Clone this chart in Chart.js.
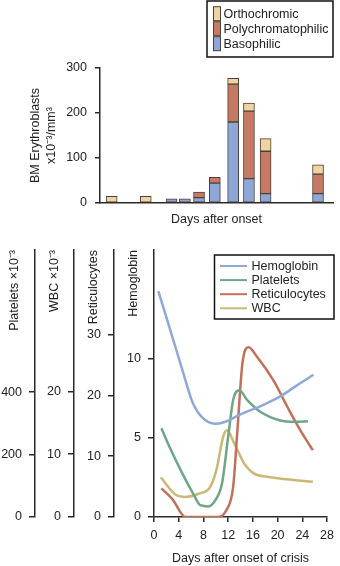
<!DOCTYPE html>
<html>
<head>
<meta charset="utf-8">
<script src="https://cdn.jsdelivr.net/npm/chart.js@4.4.1/dist/chart.umd.min.js"></script>
<style>
  html, body { margin: 0; padding: 0; background: #fff; }
  #wrap { position: relative; width: 340px; height: 566px; }
  .pane { position: absolute; left: 0; width: 340px; }
</style>
</head>
<body>
<div id="wrap">
  <div class="pane" style="top:0;height:228px"><canvas id="bmChart"></canvas></div>
  <div class="pane" style="top:228px;height:338px"><canvas id="crisisChart"></canvas></div>
</div>
<script>
/* ── Data: bone marrow erythroblasts (stacked bars) ─────────────── */
const BM_DAYS  = [1.4, 5.5, 8.6, 10.2, 11.9, 13.8, 16, 17.9, 19.9, 26.2];
const BASO     = [null, null, 9, 9, 12, 44, 180, 54, 21, 21];
const POLY     = [null, null, null, null, 12, 13, 84, 150, 94, 43];
const ORTHO    = [15, 15, null, null, null, null, 13, 18, 28, 21];
const BM_TICKS = [0, 100, 200, 300];

/* ── Data: blood counts after onset of crisis (lines) ──────────── */
const HB_DAYS  = [0.7, 2.5, 4.6, 6.2, 7.8, 9.9, 11.3, 14, 17.7, 20.3, 23, 25.8];
const HB       = [14.3, 12.0, 9.3, 7.3, 6.3, 5.9, 6.0, 6.5, 7.1, 7.6, 8.3, 9.0];
const PLT_DAYS = [1.2, 2.5, 4.6, 6.2, 7.5, 8.8, 9.9, 11, 12, 12.8, 13.8, 15.1, 17.2, 20.3, 23, 24.9];
const PLT      = [284, 225, 139, 80, 38, 34, 53, 107, 257, 374, 406, 374, 337, 310, 305, 307];
const RET_DAYS = [1.2, 3.0, 5.1, 7.2, 10.4, 11.7, 12.8, 13.5, 14.3, 15.3, 16.7, 19.3, 21.9, 24, 25.7];
const RET      = [4.7, 2.9, 0, 0, 0, 1.1, 4.9, 14.3, 25.2, 27.9, 26.3, 22.5, 17.5, 13.7, 11.0];
const WBC_DAYS = [1.1, 3.6, 5.1, 7.2, 9.1, 10.1, 11.2, 11.8, 13, 14.6, 16.2, 18.3, 21.4, 25.7];
const WBC      = [6.3, 3.5, 3.2, 3.7, 4.8, 7.5, 12.8, 13.8, 11.7, 8.5, 6.9, 6.4, 6.0, 5.6];
const DAY_TICKS = [0, 4, 8, 12, 16, 20, 24, 28];
const HB_TICKS  = [0, 5, 10];
const RET_TICKS = [0, 10, 20, 30];
const WBC_TICKS = [0, 10, 20];
const PLT_TICKS = [0, 200, 400];

/* ── Style ──────────────────────────────────────────────────────── */
const FONT = '"Liberation Sans", Arial, Helvetica, sans-serif';
const INK  = "#222";
const AXIS = "#2a2a2a";
Chart.defaults.font.family = FONT;
Chart.defaults.font.size = 12.5;
Chart.defaults.color = INK;

const pts = (xs, ys) => xs.map((x, i) => ({ x, y: ys[i] }));
const fixTicks = list => s => { s.ticks = list.map(v => ({ value: v })); };

/* legend drawn as a framed box, like the figure */
const boxLegend = {
  id: "boxLegend",
  afterDraw(chart, args, o) {
    if (!o || !o.w) return;
    const ctx = chart.ctx;
    const items = o.reverse ? chart.data.datasets.slice().reverse() : chart.data.datasets;
    ctx.save();
    ctx.lineWidth = 1.5;
    ctx.strokeStyle = "#111";
    ctx.strokeRect(o.x, o.y, o.w, o.h);
    ctx.font = "12.5px " + FONT;
    ctx.textBaseline = "middle";
    items.forEach((ds, i) => {
      const cy = o.y + o.first + i * o.rowH;
      if (o.kind === "box") {
        ctx.fillStyle = ds.backgroundColor;
        ctx.fillRect(o.x + o.sx, cy - 7, 7, 14);
        ctx.lineWidth = 1;
        ctx.strokeStyle = ds.borderColor;
        ctx.strokeRect(o.x + o.sx, cy - 7, 7, 14);
      } else {
        ctx.lineWidth = 2;
        ctx.strokeStyle = ds.borderColor;
        ctx.beginPath();
        ctx.moveTo(o.x + o.sx, cy);
        ctx.lineTo(o.x + o.sx + 27, cy);
        ctx.stroke();
      }
      ctx.fillStyle = INK;
      ctx.fillText(ds.label, o.x + o.tx, cy + 0.5);
    });
    ctx.restore();
  }
};

/* ── Top chart: BM erythroblasts ────────────────────────────────── */
const barDs = (label, xs, ys, color) => ({
  label, data: pts(xs, ys),
  backgroundColor: color, borderColor: "#4a4038", borderWidth: 1,
  borderSkipped: false, barThickness: 11
});

new Chart(document.getElementById("bmChart"), {
  type: "bar",
  data: {
    datasets: [
      barDs("Basophilic", BM_DAYS, BASO, "#8fa6d9"),
      barDs("Polychromatophilic", BM_DAYS, POLY, "#c67a64"),
      barDs("Orthochromic", BM_DAYS, ORTHO, "#f0d4a0")
    ]
  },
  options: {
    responsive: true,
    maintainAspectRatio: false,
    animation: false,
    layout: { padding: { top: 68, right: 7, left: 0, bottom: 0 } },
    plugins: {
      legend: { display: false },
      tooltip: { enabled: false },
      boxLegend: { kind: "box", reverse: true, x: 207, y: 1, w: 126, h: 56, first: 12.7, rowH: 15, sx: 6.5, tx: 16.5 }
    },
    scales: {
      x: {
        type: "linear", stacked: true, min: 0, max: 28, offset: false,
        ticks: { display: false },
        grid: { display: false, offset: false },
        border: { display: true, color: AXIS, width: 1.5 },
        title: { display: true, text: "Days after onset", padding: { top: 0, bottom: 1 } },
        afterFit: s => { s.height = 25; }
      },
      y: {
        stacked: true, min: 0, max: 300,
        afterBuildTicks: fixTicks(BM_TICKS),
        ticks: { padding: 8, color: INK },
        grid: { drawOnChartArea: false, tickLength: 5, color: AXIS, lineWidth: 1.5 },
        border: { display: true, color: AXIS, width: 1.5 },
        title: {
          display: true, text: ["BM Erythroblasts", "x10\u207B\u00B3/mm\u00B3"],
          font: { size: 12.5, lineHeight: 1.3 }, padding: { top: 27.5, bottom: 0 }
        },
        afterFit: s => { s.width = 100; }
      }
    }
  },
  plugins: [boxLegend]
});

/* ── Bottom chart: counts after onset of crisis ─────────────────── */
const lineDs = (label, xs, ys, color, axis) => ({
  label, data: pts(xs, ys), yAxisID: axis,
  borderColor: color, backgroundColor: color, borderWidth: 2.5,
  pointRadius: 0, fill: false, cubicInterpolationMode: "monotone"
});

const yAxis = (title, max, ticks, weight, width, tpad) => ({
  type: "linear", position: "left", weight, min: 0, max,
  afterBuildTicks: fixTicks(ticks),
  ticks: { padding: 7, color: INK },
  grid: { drawOnChartArea: false, tickLength: 6, color: AXIS, lineWidth: 1.5 },
  border: { display: true, color: AXIS, width: 1.5 },
  title: { display: true, text: title, align: "end", padding: { top: tpad, bottom: 0 } },
  afterFit: s => { s.width = width; }
});

new Chart(document.getElementById("crisisChart"), {
  type: "line",
  data: {
    datasets: [
      lineDs("Hemoglobin", HB_DAYS, HB, "#8ea8d8", "hb"),
      lineDs("Platelets", PLT_DAYS, PLT, "#6fa686", "plt"),
      lineDs("Reticulocytes", RET_DAYS, RET, "#c2705a", "ret"),
      lineDs("WBC", WBC_DAYS, WBC, "#cbb877", "wbc")
    ]
  },
  options: {
    responsive: true,
    maintainAspectRatio: false,
    animation: false,
    layout: { padding: { top: 22, right: 8, left: 0, bottom: 0 } },
    plugins: {
      legend: { display: false },
      tooltip: { enabled: false },
      boxLegend: { kind: "line", x: 214.5, y: 27, w: 119.5, h: 64, first: 11, rowH: 14.1, sx: 5.5, tx: 37 }
    },
    scales: {
      x: {
        type: "linear", min: 0, max: 28,
        afterBuildTicks: fixTicks(DAY_TICKS),
        ticks: { padding: 6, color: INK, maxRotation: 0 },
        grid: { drawOnChartArea: false, tickLength: 5, color: AXIS, lineWidth: 1.5 },
        border: { display: true, color: AXIS, width: 1.5 },
        title: { display: true, text: "Days after onset of crisis", padding: { top: 0, bottom: 0 } },
        afterFit: s => { s.height = 49; }
      },
      hb:  yAxis("Hemoglobin", 16.9, HB_TICKS, 1, 40, 12.5),
      ret: yAxis("Reticulocytes", 43.9, RET_TICKS, 2, 40, 12.5),
      wbc: yAxis("WBC \u00D710\u207B\u00B3", 42.5, WBC_TICKS, 3, 39, 12.5),
      plt: yAxis("Platelets \u00D710\u207B\u00B3", 855, PLT_TICKS, 4, 35, 7)
    }
  },
  plugins: [boxLegend]
});
</script>
</body>
</html>
